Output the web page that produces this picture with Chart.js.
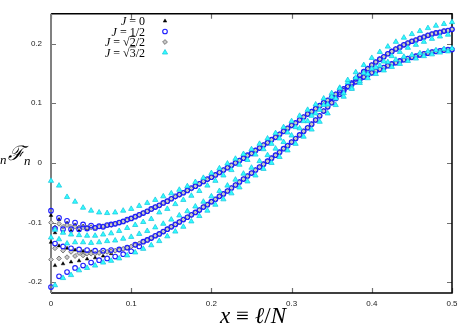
<!DOCTYPE html>
<html>
<head>
<meta charset="utf-8">
<script src="https://cdn.jsdelivr.net/npm/chart.js@4.4.0/dist/chart.umd.min.js"></script>
<style>
  html, body { margin: 0; padding: 0; background: #fff; }
</style>
</head>
<body>
<canvas id="fnChart" width="467" height="327"></canvas>
<script>
// x = l/N sample points (shared by every series)
const xValues = [0.000, 0.005, 0.010, 0.015, 0.020, 0.025, 0.030, 0.035, 0.040, 0.045,
                 0.050, 0.055, 0.060, 0.065, 0.070, 0.075, 0.080, 0.085, 0.090, 0.095,
                 0.100, 0.105, 0.110, 0.115, 0.120, 0.125, 0.130, 0.135, 0.140, 0.145,
                 0.150, 0.155, 0.160, 0.165, 0.170, 0.175, 0.180, 0.185, 0.190, 0.195,
                 0.200, 0.205, 0.210, 0.215, 0.220, 0.225, 0.230, 0.235, 0.240, 0.245,
                 0.250, 0.255, 0.260, 0.265, 0.270, 0.275, 0.280, 0.285, 0.290, 0.295,
                 0.300, 0.305, 0.310, 0.315, 0.320, 0.325, 0.330, 0.335, 0.340, 0.345,
                 0.350, 0.355, 0.360, 0.365, 0.370, 0.375, 0.380, 0.385, 0.390, 0.395,
                 0.400, 0.405, 0.410, 0.415, 0.420, 0.425, 0.430, 0.435, 0.440, 0.445,
                 0.450, 0.455, 0.460, 0.465, 0.470, 0.475, 0.480, 0.485, 0.490, 0.495, 0.500];

// branch A: starts near -0.11, ends at 0.19 ; branch B: starts near -0.15, ends at 0.225
const j0BranchA = [-0.088, -0.117, -0.095, -0.116, -0.101, -0.114, -0.104, -0.113, -0.106, -0.111,
                   -0.107, -0.109, -0.107, -0.106, -0.105, -0.104, -0.102, -0.100, -0.098, -0.096,
                   -0.093, -0.090, -0.087, -0.084, -0.081, -0.078, -0.074, -0.071, -0.067, -0.064,
                   -0.060, -0.057, -0.053, -0.050, -0.046, -0.043, -0.039, -0.035, -0.031, -0.028,
                   -0.024, -0.020, -0.016, -0.012, -0.008, -0.004, 0.000, 0.004, 0.008, 0.012,
                   0.016, 0.021, 0.025, 0.030, 0.034, 0.039, 0.043, 0.048, 0.053, 0.058,
                   0.063, 0.067, 0.072, 0.077, 0.082, 0.086, 0.091, 0.096, 0.101, 0.105,
                   0.110, 0.115, 0.119, 0.124, 0.128, 0.132, 0.136, 0.140, 0.144, 0.148,
                   0.151, 0.154, 0.157, 0.160, 0.163, 0.166, 0.168, 0.171, 0.173, 0.175,
                   0.177, 0.179, 0.181, 0.183, 0.184, 0.186, 0.187, 0.188, 0.189, 0.190, 0.190];
const j0BranchB = [-0.133, -0.172, -0.139, -0.169, -0.143, -0.166, -0.146, -0.164, -0.148, -0.161,
                   -0.149, -0.159, -0.150, -0.156, -0.149, -0.152, -0.147, -0.146, -0.144, -0.142,
                   -0.140, -0.138, -0.135, -0.132, -0.129, -0.126, -0.122, -0.119, -0.115, -0.111,
                   -0.107, -0.103, -0.099, -0.095, -0.091, -0.087, -0.083, -0.079, -0.074, -0.070,
                   -0.065, -0.061, -0.056, -0.052, -0.047, -0.042, -0.037, -0.032, -0.027, -0.022,
                   -0.017, -0.012, -0.007, -0.002, 0.003, 0.008, 0.013, 0.018, 0.024, 0.029,
                   0.035, 0.041, 0.047, 0.053, 0.059, 0.065, 0.072, 0.079, 0.087, 0.094,
                   0.101, 0.108, 0.115, 0.121, 0.128, 0.134, 0.141, 0.147, 0.153, 0.158,
                   0.164, 0.169, 0.174, 0.178, 0.183, 0.187, 0.191, 0.194, 0.198, 0.201,
                   0.204, 0.206, 0.209, 0.211, 0.214, 0.216, 0.218, 0.219, 0.221, 0.222, 0.224];

const jHalfBranchA = [-0.080, -0.110, -0.092, -0.111, -0.097, -0.111, -0.100, -0.111, -0.103, -0.110,
                      -0.105, -0.109, -0.106, -0.107, -0.104, -0.103, -0.102, -0.100, -0.098, -0.095,
                      -0.093, -0.090, -0.087, -0.084, -0.081, -0.077, -0.074, -0.071, -0.067, -0.064,
                      -0.060, -0.056, -0.053, -0.050, -0.046, -0.042, -0.039, -0.035, -0.031, -0.027,
                      -0.024, -0.020, -0.016, -0.012, -0.008, -0.004, 0.000, 0.004, 0.008, 0.013,
                      0.016, 0.021, 0.025, 0.030, 0.034, 0.039, 0.043, 0.048, 0.053, 0.058,
                      0.063, 0.067, 0.072, 0.077, 0.082, 0.086, 0.091, 0.096, 0.101, 0.105,
                      0.110, 0.115, 0.119, 0.124, 0.128, 0.132, 0.136, 0.140, 0.144, 0.148,
                      0.151, 0.154, 0.157, 0.160, 0.163, 0.166, 0.168, 0.171, 0.173, 0.175,
                      0.177, 0.179, 0.181, 0.183, 0.184, 0.186, 0.187, 0.188, 0.189, 0.190, 0.190];
const jHalfBranchB = [-0.208, -0.135, -0.190, -0.140, -0.183, -0.143, -0.176, -0.145, -0.172, -0.146,
                      -0.167, -0.147, -0.163, -0.147, -0.160, -0.146, -0.157, -0.145, -0.153, -0.142,
                      -0.148, -0.137, -0.140, -0.132, -0.129, -0.126, -0.122, -0.119, -0.115, -0.111,
                      -0.107, -0.103, -0.099, -0.095, -0.091, -0.087, -0.083, -0.079, -0.074, -0.070,
                      -0.065, -0.061, -0.056, -0.052, -0.047, -0.042, -0.037, -0.032, -0.027, -0.022,
                      -0.017, -0.012, -0.007, -0.002, 0.003, 0.008, 0.013, 0.018, 0.024, 0.029,
                      0.035, 0.041, 0.047, 0.053, 0.059, 0.065, 0.072, 0.079, 0.087, 0.094,
                      0.101, 0.108, 0.115, 0.121, 0.128, 0.134, 0.141, 0.147, 0.153, 0.158,
                      0.164, 0.169, 0.174, 0.178, 0.183, 0.187, 0.191, 0.194, 0.198, 0.201,
                      0.204, 0.206, 0.209, 0.211, 0.214, 0.216, 0.218, 0.219, 0.221, 0.222, 0.224];

const jSqrt2BranchA = [-0.100, -0.108, -0.102, -0.107, -0.104, -0.107, -0.107, -0.108, -0.108, -0.108,
                       -0.108, -0.108, -0.107, -0.106, -0.105, -0.104, -0.102, -0.100, -0.098, -0.096,
                       -0.093, -0.090, -0.087, -0.084, -0.081, -0.078, -0.074, -0.071, -0.067, -0.064,
                       -0.060, -0.057, -0.053, -0.050, -0.046, -0.043, -0.039, -0.035, -0.031, -0.028,
                       -0.024, -0.020, -0.016, -0.012, -0.008, -0.004, 0.000, 0.004, 0.008, 0.012,
                       0.016, 0.021, 0.025, 0.030, 0.034, 0.039, 0.043, 0.048, 0.053, 0.058,
                       0.063, 0.067, 0.072, 0.077, 0.082, 0.086, 0.091, 0.096, 0.101, 0.105,
                       0.110, 0.115, 0.119, 0.124, 0.128, 0.132, 0.136, 0.140, 0.144, 0.148,
                       0.151, 0.154, 0.157, 0.160, 0.163, 0.166, 0.168, 0.171, 0.173, 0.175,
                       0.177, 0.179, 0.181, 0.183, 0.184, 0.186, 0.187, 0.188, 0.189, 0.190, 0.190];
const jSqrt2BranchB = [-0.162, -0.143, -0.160, -0.147, -0.158, -0.149, -0.156, -0.151, -0.155, -0.152,
                       -0.152, -0.152, -0.151, -0.150, -0.149, -0.148, -0.147, -0.146, -0.144, -0.142,
                       -0.140, -0.138, -0.135, -0.132, -0.129, -0.126, -0.122, -0.119, -0.115, -0.111,
                       -0.107, -0.103, -0.099, -0.095, -0.091, -0.087, -0.083, -0.079, -0.074, -0.070,
                       -0.065, -0.061, -0.056, -0.052, -0.047, -0.042, -0.037, -0.032, -0.027, -0.022,
                       -0.017, -0.012, -0.007, -0.002, 0.003, 0.008, 0.013, 0.018, 0.024, 0.029,
                       0.035, 0.041, 0.047, 0.053, 0.059, 0.065, 0.072, 0.079, 0.087, 0.094,
                       0.101, 0.108, 0.115, 0.121, 0.128, 0.134, 0.141, 0.147, 0.153, 0.158,
                       0.164, 0.169, 0.174, 0.178, 0.183, 0.187, 0.191, 0.194, 0.198, 0.201,
                       0.204, 0.206, 0.209, 0.211, 0.214, 0.216, 0.218, 0.219, 0.221, 0.222, 0.224];

const jSqrt3BranchA = [-0.030, -0.112, -0.038, -0.117, -0.057, -0.120, -0.065, -0.121, -0.075, -0.122,
                       -0.080, -0.122, -0.083, -0.120, -0.084, -0.118, -0.083, -0.114, -0.080, -0.109,
                       -0.077, -0.104, -0.072, -0.099, -0.067, -0.094, -0.062, -0.083, -0.056, -0.077,
                       -0.051, -0.069, -0.045, -0.062, -0.039, -0.055, -0.032, -0.047, -0.025, -0.038,
                       -0.017, -0.030, -0.009, -0.021, -0.001, -0.012, 0.007, -0.003, 0.015, 0.005,
                       0.023, 0.014, 0.032, 0.023, 0.041, 0.032, 0.050, 0.041, 0.060, 0.051,
                       0.070, 0.060, 0.079, 0.070, 0.089, 0.079, 0.098, 0.089, 0.108, 0.098,
                       0.117, 0.108, 0.126, 0.117, 0.135, 0.126, 0.143, 0.134, 0.151, 0.142,
                       0.158, 0.149, 0.163, 0.155, 0.169, 0.161, 0.173, 0.166, 0.178, 0.171,
                       0.181, 0.175, 0.184, 0.179, 0.187, 0.182, 0.189, 0.185, 0.191, 0.187, 0.192];
const jSqrt3BranchB = [-0.125, -0.205, -0.128, -0.193, -0.135, -0.188, -0.133, -0.180, -0.133, -0.176,
                       -0.134, -0.172, -0.133, -0.167, -0.131, -0.164, -0.130, -0.160, -0.127, -0.155,
                       -0.124, -0.150, -0.119, -0.144, -0.114, -0.138, -0.108, -0.131, -0.102, -0.123,
                       -0.095, -0.115, -0.088, -0.107, -0.081, -0.098, -0.073, -0.089, -0.065, -0.080,
                       -0.056, -0.070, -0.047, -0.061, -0.038, -0.051, -0.028, -0.041, -0.018, -0.031,
                       -0.008, -0.021, 0.003, -0.010, 0.013, 0.000, 0.024, 0.010, 0.035, 0.021,
                       0.046, 0.032, 0.058, 0.044, 0.070, 0.056, 0.083, 0.069, 0.097, 0.083,
                       0.111, 0.097, 0.125, 0.111, 0.139, 0.124, 0.152, 0.137, 0.164, 0.149,
                       0.176, 0.160, 0.186, 0.170, 0.195, 0.179, 0.203, 0.186, 0.210, 0.193,
                       0.216, 0.198, 0.221, 0.203, 0.226, 0.208, 0.230, 0.212, 0.233, 0.215, 0.236];

const xTicks = [0, 0.1, 0.2, 0.3, 0.4, 0.5];
const yTicks = [-0.2, -0.1, 0, 0.1, 0.2];

function branchPoints(a, b) {
    const pts = xValues.map((x, i) => ({ x: x, y: a[i] }));
    return pts.concat(xValues.map((x, i) => ({ x: x, y: b[i] })));
}

// legend text pieces: J in italic, the rest upright, radicand gets an overline
const legendParts = [
    [{ t: 'J', it: true }, { t: ' = 0' }],
    [{ t: 'J', it: true }, { t: ' = 1/2' }],
    [{ t: 'J', it: true }, { t: ' = ' }, { t: '√' }, { t: '2', over: true }, { t: '/2' }],
    [{ t: 'J', it: true }, { t: ' = ' }, { t: '√' }, { t: '3', over: true }, { t: '/2' }]
];

const framePlugin = {
    id: 'frame',
    beforeDatasetsDraw(chart) {
        const { ctx, chartArea: a, scales } = chart;
        ctx.save();
        // ticks pointing inward
        ctx.strokeStyle = '#707070';
        ctx.lineWidth = 1.2;
        ctx.beginPath();
        yTicks.forEach(v => {
            const y = Math.round(scales.y.getPixelForValue(v)) + 0.5;
            ctx.moveTo(a.left, y); ctx.lineTo(a.left + 5, y);
            ctx.moveTo(a.right, y); ctx.lineTo(a.right - 5, y);
        });
        xTicks.forEach(v => {
            const x = Math.round(scales.x.getPixelForValue(v)) + 0.5;
            ctx.moveTo(x, a.bottom); ctx.lineTo(x, a.bottom - 5);
            ctx.moveTo(x, a.top); ctx.lineTo(x, a.top + 5);
        });
        ctx.stroke();
        ctx.lineWidth = 1.5;
        ctx.strokeStyle = '#000';
        ctx.beginPath();
        ctx.moveTo(a.left, a.top); ctx.lineTo(a.right, a.top);
        ctx.lineTo(a.right, a.bottom); ctx.lineTo(a.left, a.bottom);
        ctx.stroke();
        ctx.strokeStyle = '#808080';
        ctx.lineWidth = 2;
        ctx.beginPath();
        ctx.moveTo(a.left, a.top); ctx.lineTo(a.left, a.bottom);
        ctx.stroke();
        ctx.restore();
    },
    afterDraw(chart) {
        const ctx = chart.ctx;
        ctx.save();
        ctx.fillStyle = '#000';
        ctx.textBaseline = 'alphabetic';
        // y axis title, cut off at the left edge like the original
        ctx.font = 'italic 20px "Liberation Serif", "DejaVu Serif", serif';
        ctx.fillText('ℓ', -9, 160);
        ctx.font = 'italic 20px "DejaVu Serif", serif';
        ctx.fillText('ℱ', 8, 160);
        ctx.font = 'italic 13px "Liberation Serif", serif';
        ctx.fillText('n', 0, 164);
        ctx.fillText('n', 24, 165);

        // x axis title
        const parts = [['x', true], [' ≡ ', false], ['ℓ', true], ['/', false], ['N', true]];
        const fontFor = it => (it ? 'italic ' : '') + '23px "Liberation Serif", "DejaVu Serif", serif';
        let total = 0;
        parts.forEach(p => { ctx.font = fontFor(p[1]); total += ctx.measureText(p[0]).width; });
        let x = 253 - total / 2;
        parts.forEach(p => {
            ctx.font = fontFor(p[1]);
            ctx.fillText(p[0], x, 323);
            x += ctx.measureText(p[0]).width;
        });

        // legend: text right aligned, marker to the right
        const rightEdge = 145, markX = 165;
        chart.data.datasets.forEach((ds, i) => {
            const y = 21 + i * 10.5;
            const pieces = legendParts[i];
            const fontOf = p => (p.it ? 'italic ' : '') + '12px "Liberation Serif", serif';
            let w0 = 0;
            pieces.forEach(p => { ctx.font = fontOf(p); w0 += ctx.measureText(p.t).width; });
            let px = rightEdge - w0;
            ctx.fillStyle = '#000';
            pieces.forEach(p => {
                ctx.font = fontOf(p);
                ctx.fillText(p.t, px, y + 4);
                const w = ctx.measureText(p.t).width;
                if (p.over) {
                    ctx.fillRect(px, y - 6, w, 0.8);
                }
                px += w;
            });
            ctx.fillStyle = ds.backgroundColor;
            ctx.strokeStyle = ds.borderColor;
            ctx.lineWidth = ds.borderWidth;
            Chart.helpers.drawPoint(ctx, {
                pointStyle: ds.pointStyle,
                radius: ds.pointRadius,
                borderWidth: ds.borderWidth,
                rotation: 0
            }, markX, y);
        });
        ctx.restore();
    }
};

const ctx = document.getElementById('fnChart').getContext('2d');
new Chart(ctx, {
    type: 'scatter',
    data: {
        datasets: [{
            label: 'J = 0',
            data: branchPoints(j0BranchA, j0BranchB),
            pointStyle: 'triangle',
            pointRadius: 2.1,
            backgroundColor: '#000000',
            borderColor: '#000000',
            borderWidth: 0.5,
            order: 3,
            clip: false
        }, {
            label: 'J = 1/2',
            data: branchPoints(jHalfBranchA, jHalfBranchB),
            pointStyle: 'circle',
            pointRadius: 2.3,
            backgroundColor: 'rgba(0,0,0,0)',
            borderColor: '#1c1cff',
            borderWidth: 1.1,
            order: 1,
            clip: false
        }, {
            label: 'J = √2/2',
            data: branchPoints(jSqrt2BranchA, jSqrt2BranchB),
            pointStyle: 'rectRot',
            pointRadius: 2.4,
            backgroundColor: '#c8c8c8',
            borderColor: '#7a7a7a',
            borderWidth: 1,
            order: 2,
            clip: false
        }, {
            label: 'J = √3/2',
            data: branchPoints(jSqrt3BranchA, jSqrt3BranchB),
            pointStyle: 'triangle',
            pointRadius: 3.0,
            backgroundColor: '#30ffff',
            borderColor: '#20c8e0',
            borderWidth: 0.8,
            order: 0,
            clip: false
        }]
    },
    options: {
        responsive: false,
        animation: false,
        devicePixelRatio: 1,
        layout: { padding: { top: 12, right: 15, left: 0, bottom: 0 } },
        plugins: {
            legend: { display: false },
            tooltip: { enabled: false }
        },
        scales: {
            x: {
                type: 'linear',
                min: 0,
                max: 0.5,
                grid: { display: false, drawTicks: false },
                border: { display: false },
                afterBuildTicks: s => { s.ticks = xTicks.map(v => ({ value: v })); },
                afterFit: s => { s.height = 34; },
                ticks: {
                    padding: 6,
                    color: '#222',
                    font: { family: 'Liberation Sans', size: 8 },
                    maxRotation: 0,
                    callback: v => v === 0 ? '0' : v.toFixed(1)
                }
            },
            y: {
                type: 'linear',
                min: -0.218,
                max: 0.25,
                grid: { display: false, drawTicks: false },
                border: { display: false },
                afterBuildTicks: s => { s.ticks = yTicks.map(v => ({ value: v })); },
                afterFit: s => { s.width = 51; },
                ticks: {
                    padding: 9,
                    color: '#222',
                    font: { family: 'Liberation Sans', size: 8 },
                    callback: v => v === 0 ? '0' : v.toFixed(1)
                }
            }
        }
    },
    plugins: [framePlugin]
});
</script>
</body>
</html>
